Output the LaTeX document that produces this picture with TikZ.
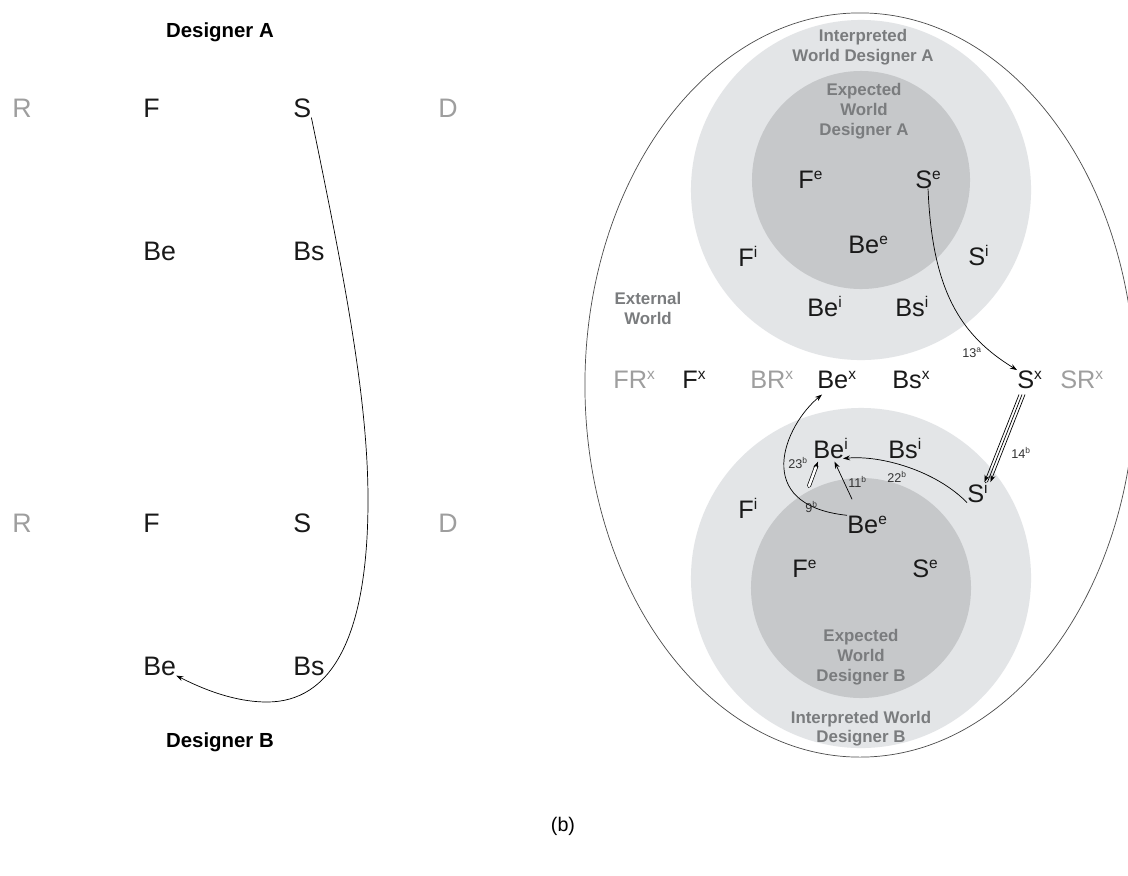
\documentclass[tikz,border=0pt]{standalone}
\usepackage{fontspec}
\setmainfont{Liberation Sans}
\usepackage{xcolor}
\usepackage{tikz}
\usetikzlibrary{shapes.geometric, arrows.meta, calc}

\definecolor{faint}{RGB}{158,158,158}
\definecolor{worldtxt}{RGB}{122,124,126}
\definecolor{interp}{RGB}{227,229,231}
\definecolor{expect}{RGB}{198,200,202}
\newcommand{\wsup}[1]{\raisebox{6pt}{\fontsize{11}{11}\selectfont #1}}
\newcommand{\nsup}[1]{\raisebox{3.5pt}{\fontsize{6}{6}\selectfont #1}}

\begin{document}
\begin{tikzpicture}[
        x=0.025cm, y=-0.025cm,
        lbl/.style={font=\fontsize{19}{19}\selectfont, anchor=base west, inner sep=0pt, text=black!90},
        rlbl/.style={font=\fontsize{18}{18}\selectfont, anchor=base west, inner sep=0pt, text=black!90},
        dim/.style={text=faint},
        designer/.style={font=\fontsize{14.5}{14.5}\selectfont\bfseries, anchor=base, inner sep=0pt},
        world/.style={font=\fontsize{12}{14.5}\selectfont\bfseries, text=worldtxt, align=center, anchor=north, inner sep=0pt},
        num/.style={font=\fontsize{9}{9}\selectfont, anchor=base west, inner sep=0pt, text=black!80},
        arr/.style={-{Stealth[length=5pt,width=3.5pt]}, line width=0.5pt}
    ]
    \useasboundingbox (0,0) rectangle (1128,875);
    \fill[white] (0,0) rectangle (1128,875);
    \clip (0,0) rectangle (1128,875);

    % Left - Designer A / Designer B
    \node[designer] (desA) at (220,37) {Designer A};
    \node[lbl, dim] (rA) at (12,117) {R};
    \node[lbl] (fA) at (143,117) {F};
    \node[lbl] (sA) at (293,117) {S};
    \node[lbl, dim] (dA) at (438,117) {D};
    \node[lbl] (beA) at (143,260) {Be};
    \node[lbl] (bsA) at (293,260) {Bs};

    \node[lbl, dim] (rB) at (12,532) {R};
    \node[lbl] (fB) at (143,532) {F};
    \node[lbl] (sB) at (293,532) {S};
    \node[lbl, dim] (dB) at (438,532) {D};
    \node[lbl] (beB) at (143,675) {Be};
    \node[lbl] (bsB) at (293,675) {Bs};
    \node[designer] (desB) at (220,747) {Designer B};

    \draw[arr] (sA.south east) .. controls (345,280) and (368,400) .. (368,500)
        .. controls (368,640) and (330,702) .. (267,702)
        .. controls (230,702) and (195,685) .. (beB.south east);

    % Right - worlds
    \fill[interp] (861,190) circle[radius=4.25cm];
    \fill[expect] (861,180) circle[radius=2.725cm];
    \fill[interp] (861,578) circle[radius=4.25cm];
    \fill[expect] (861,588) circle[radius=2.75cm];
    \draw[black!70, line width=0.5pt] (860,385) ellipse[x radius=6.875cm, y radius=9.3cm];

    \node[world] (intA) at (863,29) {Interpreted\\World Designer A};
    \node[world, font=\fontsize{12}{14.2}\selectfont\bfseries] (expA) at (864,83) {Expected\\World\\Designer A};
    \node[world, font=\fontsize{12}{14.2}\selectfont\bfseries] (ext) at (648,292) {External\\World};
    \node[world, font=\fontsize{12}{14.2}\selectfont\bfseries] (expB) at (861,629) {Expected\\World\\Designer B};
    \node[world, font=\fontsize{12}{13.8}\selectfont\bfseries] (intB) at (861,711) {Interpreted World\\Designer B};

    % Designer A
    \node[rlbl] (feA) at (798,188) {F\wsup{e}};
    \node[rlbl] (seA) at (915,188) {S\wsup{e}};
    \node[rlbl] (beeA) at (848,253) {Be\wsup{e}};
    \node[rlbl] (fiA) at (738,266) {F\wsup{i}};
    \node[rlbl] (siA) at (968,265) {S\wsup{i}};
    \node[rlbl] (beiA) at (807,316) {Be\wsup{i}};
    \node[rlbl] (bsiA) at (895,316) {Bs\wsup{i}};

    % External world
    \node[rlbl, dim] (frx) at (613,388) {FR\wsup{x}};
    \node[rlbl] (fx) at (682,388) {F\wsup{x}};
    \node[rlbl, dim] (brx) at (750,388) {BR\wsup{x}};
    \node[rlbl] (bex) at (817,388) {Be\wsup{x}};
    \node[rlbl] (bsx) at (892,388) {Bs\wsup{x}};
    \node[rlbl] (sx) at (1017,388) {S\wsup{x}};
    \node[rlbl, dim] (srx) at (1060,388) {SR\wsup{x}};

    % Designer B
    \node[rlbl] (beiB) at (813,458) {Be\wsup{i}};
    \node[rlbl] (bsiB) at (888,458) {Bs\wsup{i}};
    \node[rlbl] (siB) at (967,502) {S\wsup{i}};
    \node[rlbl] (fiB) at (738,518) {F\wsup{i}};
    \node[rlbl] (beeB) at (847,533) {Be\wsup{e}};
    \node[rlbl] (feB) at (792,577) {F\wsup{e}};
    \node[rlbl] (seB) at (912,577) {S\wsup{e}};

    % step numbers
    \node[num] (n13) at (962,357) {13\nsup{a}};
    \node[num] (n14) at (1011,458) {14\nsup{b}};
    \node[num] (n23) at (788,468) {23\nsup{b}};
    \node[num] (n11) at (848,487) {11\nsup{b}};
    \node[num] (n22) at (887,482) {22\nsup{b}};
    \node[num] (n9) at (805,512) {9\nsup{b}};
    \coordinate (c23) at (809,486);

    % Arrows
    \draw[arr] (seA.south) .. controls (932,290) and (960,335) .. (sx.north west);
    \draw[arr] ($(sx.south west)+(2,6)$) -- ($(siB.north)+(7,0)$);
    \draw[line width=0.5pt] ($(sx.south west)+(5,6)$) -- ($(siB.north)+(10,0)$);
    \draw[arr] ($(sx.south west)+(8,6)$) -- ($(siB.north)+(13,0)$);
    \draw[arr] (siB.south west) .. controls (935,470) and (880,455) .. ($(beiB.south east)+(-5,0)$);
    \draw[arr] ($(beeB.north)+(-15,-16)$) -- ($(beiB.south)+(4,3)$);
    \draw[arr, double, double distance=1.8pt, line cap=round] (c23) -- ($(beiB.south west)+(5,3)$);
    \draw[arr] (beeB.north west) .. controls (750,505) and (785,425) .. ($(bex.south west)+(5,6)$);

    \node[font=\fontsize{14}{14}\selectfont, anchor=base] (cap) at (563,831) {(b)};

\end{tikzpicture}
\end{document}
